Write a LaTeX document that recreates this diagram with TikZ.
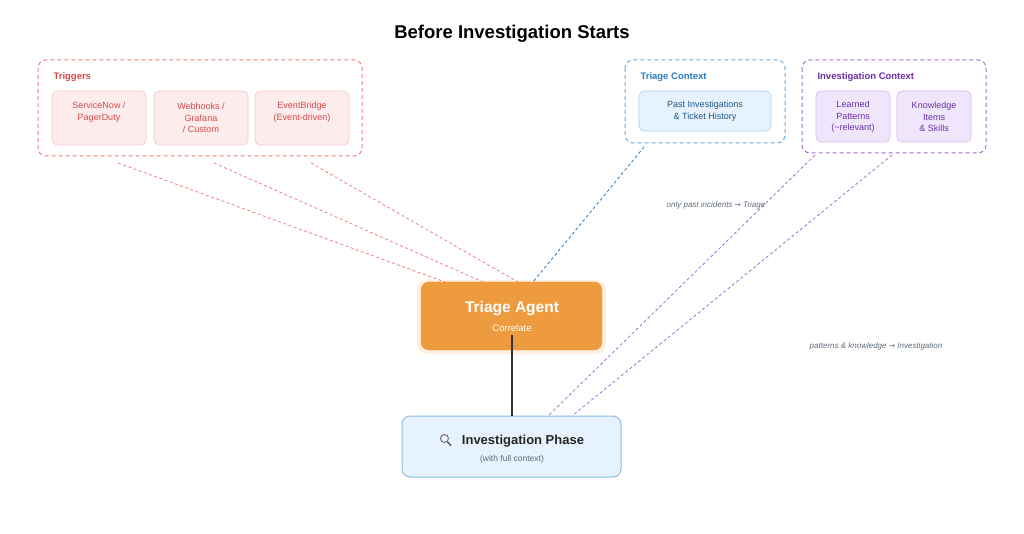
\documentclass[tikz,border=0pt]{standalone}
\usepackage{fontspec}
\setmainfont{Liberation Sans}
\newfontfamily\dvs{DejaVu Sans}
\begin{document}
\definecolor{redl}{HTML}{F08080}
\definecolor{redt}{HTML}{D94848}
\definecolor{redf}{HTML}{FDECEC}
\definecolor{redb}{HTML}{F8C4C4}
\definecolor{bluel}{HTML}{6AAEDC}
\definecolor{bluet}{HTML}{2C7BC0}
\definecolor{bluef}{HTML}{E6F3FE}
\definecolor{blueb}{HTML}{A9D3F0}
\definecolor{purl}{HTML}{A56CD0}
\definecolor{purt}{HTML}{6B2FA6}
\definecolor{purf}{HTML}{F0E6FC}
\definecolor{purb}{HTML}{D3B8EE}
\definecolor{orng}{HTML}{ED9B3E}
\definecolor{gtxt}{HTML}{5F6B7A}
\begin{tikzpicture}[x=1pt,y=-1pt,
  grp/.style={draw=#1,dashed,dash pattern=on 4pt off 3pt,line width=1pt,rounded corners=8pt},
  sub/.style={draw=#1,line width=0.6pt,rounded corners=5pt},
  st/.style={font=\fontsize{9}{11.5}\selectfont,align=center},
  hd/.style={font=\bfseries\fontsize{9.5}{11}\selectfont,anchor=west},
  lk/.style={dashed,dash pattern=on 3pt off 2.5pt,line width=0.8pt}]
\useasboundingbox (0,0) rectangle (1024,534);
\node[font=\bfseries\fontsize{18.5}{20}\selectfont] (title) at (512,34) {Before Investigation Starts};
% Triggers
\draw[grp=redl] (38,60) rectangle (362,156);
\node[hd,text=redt] (trh) at (50,77) {Triggers};
\draw[sub=redb,fill=redf] (52,91) rectangle (146,145);
\draw[sub=redb,fill=redf] (154,91) rectangle (248,145);
\draw[sub=redb,fill=redf] (255,91) rectangle (349,145);
\node[st,text=redt] (t1) at (99,112) {ServiceNow /\\PagerDuty};
\node[st,text=redt] (t2) at (201,118) {Webhooks /\\Grafana\\/ Custom};
\node[st,text=redt] (t3) at (302,112) {EventBridge\\(Event-driven)};
% Triage context
\draw[grp=bluel] (625,60) rectangle (785,143);
\node[hd,text=bluet] (tch) at (637,77) {Triage Context};
\draw[sub=blueb,fill=bluef] (639,91) rectangle (771,131);
\node[st,text=bluet!70!black] (tc) at (705,111) {Past Investigations\\\& Ticket History};
% Investigation context
\draw[grp=purl] (802,60) rectangle (986,153);
\node[hd,text=purt] (ich) at (814,77) {Investigation Context};
\draw[sub=purb,fill=purf] (816,91) rectangle (890,142);
\draw[sub=purb,fill=purf] (897,91) rectangle (971,142);
\node[st,text=purt] (ic1) at (853,117) {Learned\\Patterns\\(\textasciitilde relevant)};
\node[st,text=purt] (ic2) at (934,117) {Knowledge\\Items\\\& Skills};
% anchors
\coordinate (r1) at (118,163); \coordinate (r2) at (214,163); \coordinate (r3) at (311,163);
\coordinate (b1) at (644,147);
\coordinate (p1) at (815,155); \coordinate (p2) at (892,155);
\coordinate (ta1) at (445,282); \coordinate (ta2) at (483,282); \coordinate (ta3) at (518,282);
\coordinate (ta4) at (533,282);
\coordinate (ip1) at (548,416); \coordinate (ip2) at (572,416);
% nodes
\fill[orange!25,opacity=0.5,rounded corners=10pt] (417,280) rectangle (606,354);
\draw[fill=orng,draw=orng,rounded corners=8pt] (421,282) rectangle (602,350);
\node[font=\bfseries\fontsize{15.5}{17}\selectfont,text=white] (ta) at (512,309) {Triage Agent};
\node[font=\fontsize{9.5}{11}\selectfont,text=white] (tas) at (512,328) {Correlate};
\draw[fill=bluef,draw=bluel!80,line width=1pt,rounded corners=8pt] (402,416) rectangle (621,477);
\node[font=\bfseries\fontsize{13}{15}\selectfont,text=black!85] (ip) at (523,441) {Investigation Phase};
\node[font=\fontsize{8.5}{10}\selectfont,text=gtxt] (ips) at (512,459) {(with full context)};
% magnifier
\draw[black!60,line width=1.6pt] (447.5,442) -- (451,445.5);
\draw[black!55,fill=blue!6,line width=1pt] (444.5,438.5) circle (4pt);
% links
\draw[lk,draw=redl] (r1) -- (ta1);
\draw[lk,draw=redl] (r2) -- (ta2);
\draw[lk,draw=redl] (r3) -- (ta3);
\draw[lk,draw=bluet] (b1) -- (ta4);
\draw[lk,draw=purl] (p1) -- (ip1);
\draw[lk,draw=purl] (p2) -- (ip2);
\coordinate (tb) at (512,335); \coordinate (it) at (512,416);
\draw[line width=1.5pt,draw=black!80] (tb) -- (it);
\node[font=\itshape\fontsize{8}{9}\selectfont,text=gtxt] (l1) at (716,205) {only past incidents {\dvs\upshape\fontsize{7.5}{9}\selectfont→} Triage};
\node[font=\itshape\fontsize{8}{9}\selectfont,text=gtxt] (l2) at (876,346) {patterns \& knowledge {\dvs\upshape\fontsize{7.5}{9}\selectfont→} Investigation};
\end{tikzpicture}
\end{document}
